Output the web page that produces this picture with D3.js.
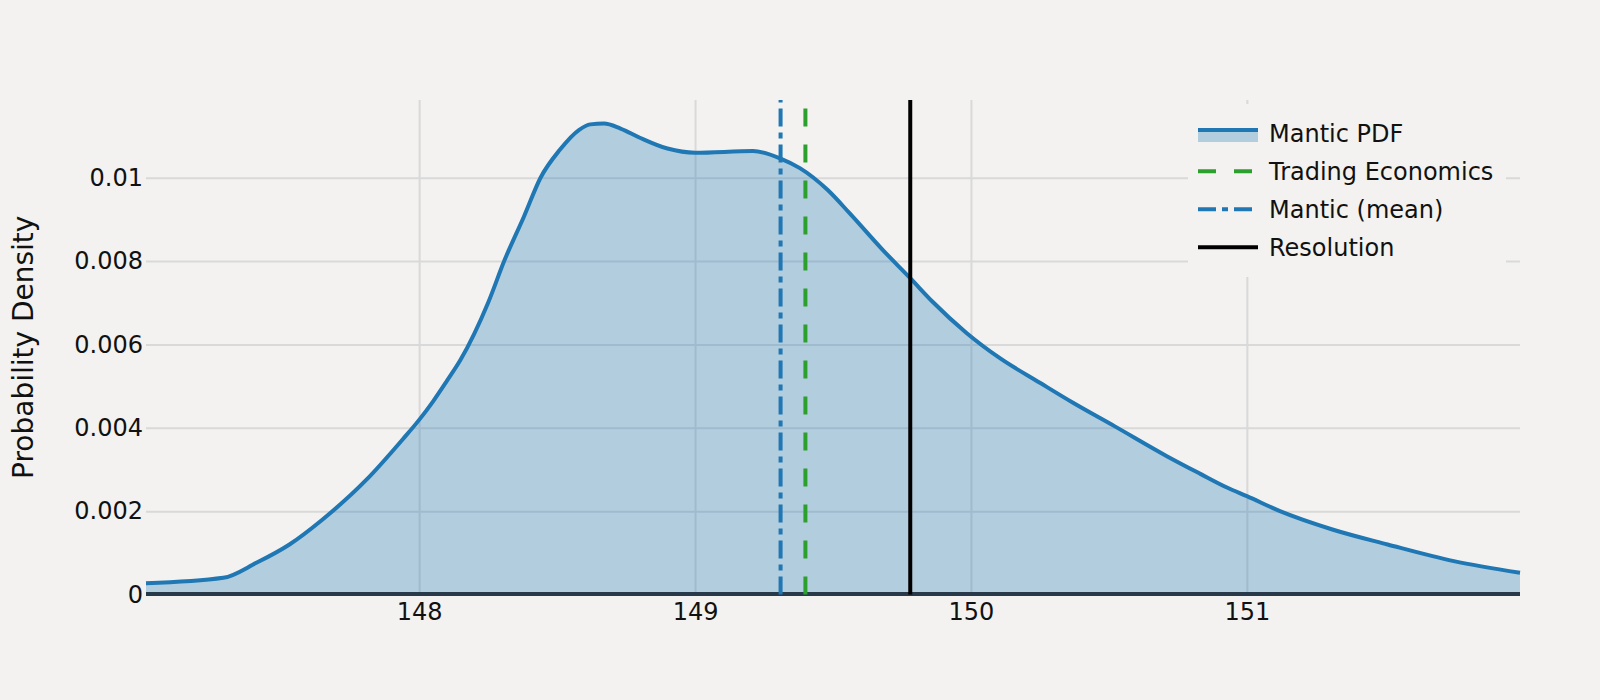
<!DOCTYPE html>
<html>
<head>
<meta charset="utf-8">
<script src="https://cdn.jsdelivr.net/npm/d3@7"></script>
<style>
  body { margin: 0; background: #f3f2f0; }
  svg { display: block; font-family: 'DejaVu Sans', Verdana, sans-serif; }
</style>
</head>
<body>
<div id="chart"></div>
<script>
/* global d3 */
const width = 1600
const height = 700
const bg = '#f3f2f0'
const plotLeft = 146
const plotRight = 1520
const plotTop = 100
const plotBottom = 594.5

// estimated PDF samples
const price = [147.01, 147.29, 147.41, 147.53, 147.65, 147.81, 147.94, 148.0, 148.05, 148.1,
  148.15, 148.25, 148.31, 148.38, 148.44, 148.51, 148.58, 148.62, 148.67, 148.73,
  148.8, 148.9, 149.0, 149.21, 149.31, 149.38, 149.48, 149.56, 149.68, 149.78,
  149.86, 149.985, 150.105, 150.25, 150.37, 150.52, 150.71, 150.83, 150.93, 151.0,
  151.12, 151.31, 151.51, 151.75, 151.99]
const density = [0.00027, 0.0004, 0.00076, 0.0012, 0.0018, 0.00276, 0.00372, 0.00419, 0.00463, 0.00512,
  0.00563, 0.007, 0.00803, 0.00907, 0.01, 0.01067, 0.01115, 0.01128, 0.0113, 0.01118,
  0.01096, 0.0107, 0.0106, 0.01064, 0.01046, 0.01023, 0.00971, 0.00915, 0.00827, 0.00759,
  0.00703, 0.00627, 0.00567, 0.00508, 0.0046, 0.00404, 0.00332, 0.0029, 0.00256, 0.00236,
  0.002, 0.00156, 0.0012, 0.0008, 0.00052]

const markerNames = ['Trading Economics', 'Mantic (mean)', 'Resolution']
const markerValues = [149.4, 149.31, 149.78]
const markerColors = ['#2ca02c', '#1f77b4', '#000000']
const markerDash = ['18,18', '18,6,6,6', null]

const xTicks = [148, 149, 150, 151]
const yTicks = [0, 0.002, 0.004, 0.006, 0.008, 0.01]
const legendNames = ['Mantic PDF', ...markerNames]

const pts = price.map((p, i) => ({ x: p, y: density[i] }))
const yTop = d3.max(density) * 1.05

const x = d3.scaleLinear().domain(d3.extent(price)).range([plotLeft, plotRight])
const y = d3.scaleLinear().domain([0, yTop]).range([plotBottom, plotTop])

const svg = d3.select('#chart')
  .append('svg')
  .attr('width', width)
  .attr('height', height)

svg.append('rect').attr('width', width).attr('height', height).attr('fill', bg)

// gridlines + tick labels
const yAxis = svg.append('g')
  .attr('transform', `translate(${plotLeft},0)`)
  .call(d3.axisLeft(y).tickValues(yTicks).tickSize(-(plotRight - plotLeft)).tickPadding(3)
    .tickFormat(d => d === 0 ? '0' : String(+d.toFixed(3))))
  .attr('font-family', null)
  .attr('font-size', 24)
yAxis.select('.domain').remove()
yAxis.selectAll('line').attr('stroke', '#d9d9d9').attr('stroke-width', 2)
yAxis.selectAll('text').attr('fill', '#111')

const xAxis = svg.append('g')
  .attr('transform', `translate(0,${plotBottom})`)
  .call(d3.axisBottom(x).tickValues(xTicks).tickSize(-(plotBottom - plotTop)).tickPadding(8.5)
    .tickFormat(d3.format('d')))
  .attr('font-family', null)
  .attr('font-size', 24)
xAxis.select('.domain').remove()
xAxis.selectAll('line').attr('stroke', '#d9d9d9').attr('stroke-width', 2)
xAxis.selectAll('text').attr('fill', '#111')

svg.append('text')
  .attr('transform', `translate(33,${(plotTop + plotBottom) / 2}) rotate(-90)`)
  .attr('text-anchor', 'middle')
  .attr('font-size', 28)
  .attr('fill', '#111')
  .text('Probability Density')

// the density
const area = d3.area()
  .x(d => x(d.x))
  .y0(y(0))
  .y1(d => y(d.y))
  .curve(d3.curveMonotoneX)
const line = d3.line()
  .x(d => x(d.x))
  .y(d => y(d.y))
  .curve(d3.curveMonotoneX)

svg.append('path')
  .datum(pts)
  .attr('d', area)
  .attr('fill', 'rgba(31,119,180,0.3)')

svg.append('line')
  .attr('x1', plotLeft).attr('x2', plotRight)
  .attr('y1', y(0) - 0.5).attr('y2', y(0) - 0.5)
  .attr('stroke', '#28394a')
  .attr('stroke-width', 4)

svg.append('path')
  .datum(pts)
  .attr('d', line)
  .attr('fill', 'none')
  .attr('stroke', '#1f77b4')
  .attr('stroke-width', 4)
  .attr('stroke-linejoin', 'round')

// vertical markers, drawn bottom to top like the traces
markerValues.forEach((v, i) => {
  svg.append('path')
    .attr('d', `M${x(v)},${y(0)}L${x(v)},${y(yTop)}`)
    .attr('stroke', markerColors[i])
    .attr('stroke-width', 4)
    .attr('stroke-dasharray', markerDash[i])
    .attr('fill', 'none')
})

// legend
const lg = svg.append('g')
lg.append('rect')
  .attr('x', 1188).attr('y', 104)
  .attr('width', 318).attr('height', 173)
  .attr('fill', bg)

legendNames.forEach((name, i) => {
  const cy = 133.3 + i * 38
  if (i === 0) {
    lg.append('rect')
      .attr('x', 1198).attr('y', cy - 3.3)
      .attr('width', 60).attr('height', 12)
      .attr('fill', 'rgba(31,119,180,0.3)')
    lg.append('line')
      .attr('x1', 1198).attr('x2', 1258)
      .attr('y1', cy - 3.3).attr('y2', cy - 3.3)
      .attr('stroke', '#1f77b4').attr('stroke-width', 4)
  } else {
    lg.append('line')
      .attr('x1', 1198).attr('x2', 1258)
      .attr('y1', cy).attr('y2', cy)
      .attr('stroke', markerColors[i - 1])
      .attr('stroke-width', 4)
      .attr('stroke-dasharray', markerDash[i - 1])
  }
  lg.append('text')
    .attr('x', 1269).attr('y', cy)
    .attr('dy', '0.35em')
    .attr('font-size', 24)
    .attr('fill', '#111')
    .text(name)
})
</script>
</body>
</html>
